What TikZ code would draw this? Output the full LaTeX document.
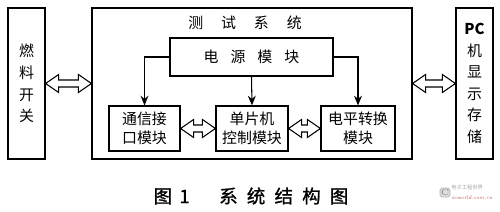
\documentclass[tikz,border=0pt]{standalone}
\usepackage{fontspec}
\newfontfamily\cjk{Noto Sans CJK SC}
\newfontfamily\cjkb[FakeBold=1.2]{Noto Sans CJK SC}
\usetikzlibrary{arrows.meta,calc}
\tikzset{
  box/.style={draw, line width=0.7pt, inner sep=0pt, align=center, font=\cjk\fontsize{8.5}{11}\selectfont},
  tallbox/.style={box, minimum width=0.74cm, minimum height=3.02cm, font=\cjk\fontsize{8.5}{12.3}\selectfont},
  modbox/.style={box, minimum height=0.9cm},
  feed/.style={line width=0.6pt, -{Stealth[length=5.5pt,width=4.5pt]}},
  hollow/.style={draw, line width=0.6pt, fill=white, line join=miter}
}
\newcommand\dblarrow[2]{%
  \path let \p1=(#1.east), \p2=(#2.west) in
    [hollow] (\x1,\y1) -- (\x1+0.26cm,\y1+0.18cm) -- (\x1+0.26cm,\y1+0.07cm)
    -- (\x2-0.26cm,\y1+0.07cm) -- (\x2-0.26cm,\y1+0.18cm) -- (\x2,\y1)
    -- (\x2-0.26cm,\y1-0.18cm) -- (\x2-0.26cm,\y1-0.07cm)
    -- (\x1+0.26cm,\y1-0.07cm) -- (\x1+0.26cm,\y1-0.18cm) -- cycle;}
\begin{document}
\begin{tikzpicture}[x=0.02cm,y=-0.02cm]
\useasboundingbox (0,0) rectangle (500,212);
\node[tallbox] (fuel) at (26.5,83.5) {燃\\料\\开\\关};
\node[box, minimum width=6.4cm, minimum height=3.02cm] (sys) at (252,83.5) {};
\node[tallbox] (pc) at (474.5,83.5) {\textbf{PC}\\机\\显\\示\\存\\储};
\node[font=\cjk\fontsize{8.5}{11}\selectfont] (title) at (245,23) {测\hspace{1.2em}试\hspace{1.2em}系\hspace{1.2em}统};
\node[box, minimum width=3.26cm, minimum height=0.76cm] (power) at (251.5,57) {电\hspace{0.8em}源\hspace{0.8em}模\hspace{0.8em}块};
\node[modbox, minimum width=1.42cm] (comm) at (144.5,128.5) {通信接\\口模块};
\node[modbox, minimum width=1.44cm] (mcu) at (252,128.5) {单片机\\控制模块};
\node[modbox, minimum width=1.48cm] (level) at (358,128.5) {电平转换\\模块};
\draw[feed] (power.west) -| (comm.north);
\draw[feed] (power.south) -- (mcu.north);
\draw[feed] (power.east) -| (level.north);
\dblarrow{fuel}{sys}
\dblarrow{sys}{pc}
\dblarrow{comm}{mcu}
\dblarrow{mcu}{level}
\node[font=\cjkb\fontsize{10.5}{12}\selectfont] (cap) at (251,196) {图\hspace{0.4em}1\hspace{1.6em}系\hspace{0.5em}统\hspace{0.5em}结\hspace{0.5em}构\hspace{0.5em}图};
\node[draw=gray!60, fill=gray!25, rounded corners=1pt, minimum width=0.2cm, minimum height=0.18cm, inner sep=0pt, font=\fontsize{5}{5}\selectfont\color{gray}] (logo) at (445,192.5) {C};
\node[anchor=west, inner sep=0pt, align=left, text=gray!70, font=\cjk\fontsize{3}{5.6}\selectfont] (logotext) at (451,192.5) {电子工程世界\\{\color{red!40!gray}\fontfamily{lmr}\itshape eeworld.com.cn}};
\end{tikzpicture}
\end{document}
